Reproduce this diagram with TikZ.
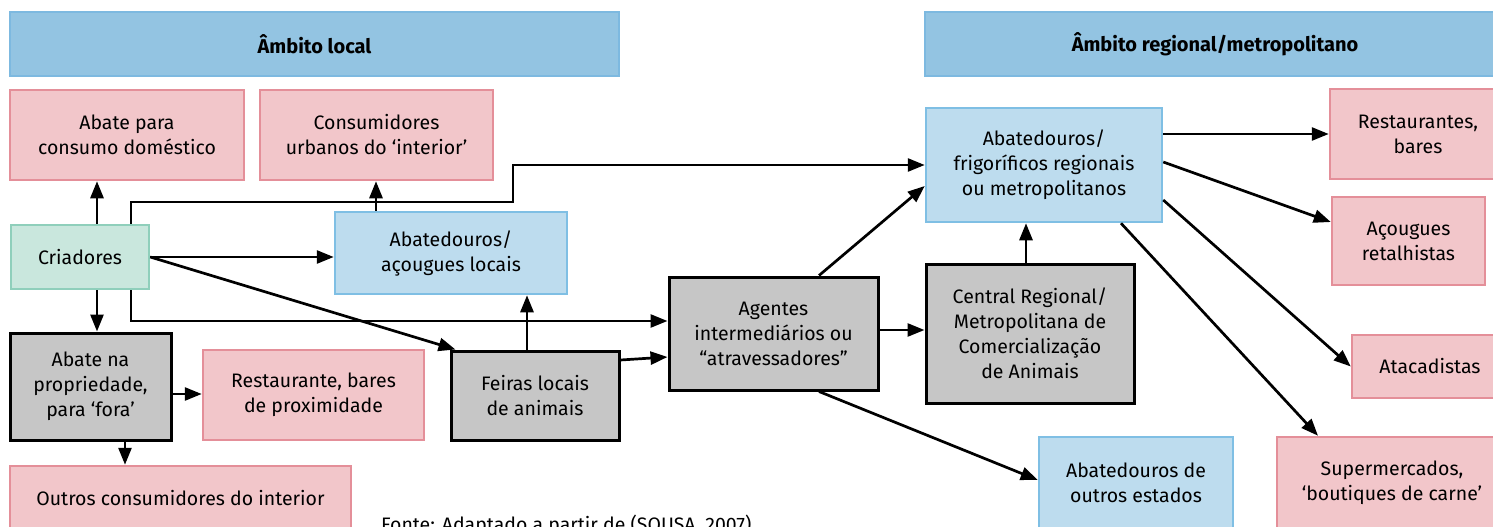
\documentclass[tikz,border=0pt]{standalone}
\usepackage{fontspec}
\setmainfont{Fira Sans}
\usetikzlibrary{arrows.meta}
\definecolor{hdr}{HTML}{93C4E2}
\definecolor{hdrb}{HTML}{7DB9E0}
\definecolor{lb}{HTML}{BDDCEE}
\definecolor{lbb}{HTML}{7FBFE4}
\definecolor{pk}{HTML}{F2C6CA}
\definecolor{pkb}{HTML}{E48F99}
\definecolor{gr}{HTML}{C9E7DD}
\definecolor{grb}{HTML}{8FCFBB}
\definecolor{gy}{HTML}{C6C6C6}
\newcommand\mkbox[7]{\node[#1, minimum width={(#5-#3)*1pt}, minimum height={(#6-#4)*1pt}] (#2) at ({(#3+#5)/2},{(#4+#6)/2}) {#7};}
\begin{document}
\begin{tikzpicture}[x=1pt,y=-1pt,
  box/.style={rectangle, inner sep=0pt, align=center, text=black, font=\fontsize{19.5}{25}\selectfont},
  hdrbox/.style={box, fill=hdr, draw=hdrb, line width=2.5pt, font=\fontsize{20}{24}\selectfont\bfseries},
  bluebox/.style={box, fill=lb, draw=lbb, line width=2.5pt},
  pinkbox/.style={box, fill=pk, draw=pkb, line width=2.5pt},
  greenbox/.style={box, fill=gr, draw=grb, line width=2.5pt},
  graybox/.style={box, fill=gy, draw=black, line width=3pt},
  arr/.style={line width=2.7pt, -{Triangle[length=17pt,width=13pt]}},
  srcnote/.style={font=\fontsize{19.5}{22}\selectfont, inner sep=0pt, anchor=base west}
]
\useasboundingbox (0,0) rectangle (1493,527);
\fill[white] (0,0) rectangle (1493,527);
\clip (0,0) rectangle (1493,527);

\mkbox{hdrbox}{hdrL}{10}{12}{619}{76}{Âmbito local}
\mkbox{hdrbox}{hdrR}{925}{12}{1505}{76}{Âmbito regional/metropolitano}

\mkbox{pinkbox}{abC}{10}{90}{244}{180}{Abate para\\consumo doméstico}
\mkbox{pinkbox}{consU}{260}{90}{493}{180}{Consumidores\\urbanos do ‘interior’}
\mkbox{greenbox}{criad}{11}{225}{149}{289}{Criadores}
\mkbox{bluebox}{abL}{335}{212}{567}{294}{Abatedouros/\\açougues locais}
\mkbox{graybox}{abP}{10}{333}{171}{440}{Abate na\\propriedade,\\para ‘fora’}
\mkbox{pinkbox}{restB}{203}{350}{424}{440}{Restaurante, bares\\de proximidade}
\mkbox{graybox}{feiras}{451}{351}{619}{440}{Feiras locais\\de animais}
\mkbox{pinkbox}{outros}{10}{466}{351}{530}{Outros consumidores do interior}
\mkbox{graybox}{agentes}{669}{277}{878}{390}{Agentes\\intermediários ou\\“atravessadores”}
\mkbox{bluebox}{abF}{926}{108}{1162}{222}{Abatedouros/\\frigoríficos regionais\\ou metropolitanos}
\mkbox{graybox}{central}{926}{264}{1134}{403}{Central Regional/\\Metropolitana de\\Comercialização\\de Animais}
\mkbox{bluebox}{abO}{1039}{437}{1233}{528}{Abatedouros de\\outros estados}
\mkbox{pinkbox}{rest}{1330}{89}{1506}{179}{Restaurantes,\\bares}
\mkbox{pinkbox}{acoug}{1332}{197}{1485}{285}{Açougues\\retalhistas}
\mkbox{pinkbox}{atac}{1352}{335}{1508}{398}{Atacadistas}
\mkbox{pinkbox}{super}{1277}{437}{1507}{528}{Supermercados,\\‘boutiques de carne’}

\node[srcnote] (fonte) at (381,531) {Fonte: Adaptado a partir de (SOUSA, 2007)};

% guide coordinates
\coordinate (x97) at (97,0);
\coordinate (x131) at (131,0);
\coordinate (x125) at (125,0);
\coordinate (x376) at (376,0);
\coordinate (x527) at (527,0);
\coordinate (x819) at (819,0);
\coordinate (x1026) at (1026,0);
\coordinate (x1121) at (1121,0);
\coordinate (x1318) at (1318,0);
\coordinate (y257) at (0,257);
\coordinate (y394) at (0,394);
\coordinate (y360) at (0,360);
\coordinate (y357) at (0,357);
\coordinate (y330) at (0,330);
\coordinate (y186) at (0,186);
\coordinate (y480) at (0,480);
\coordinate (y134) at (0,134);
\coordinate (y162) at (0,162);
\coordinate (y222) at (0,222);
\coordinate (y200) at (0,200);
\coordinate (k1) at (513,202);
\coordinate (k2) at (513,165);
\coordinate (k3) at (131,321);

\draw[arr] (x97 |- criad.north) -- (x97 |- abC.south);
\draw[arr] (x97 |- criad.south) -- (x97 |- abP.north);
\draw[arr] (x131 |- criad.north) |- (k1) -- (k2) -- (abF.west |- k2);
\draw[arr] (x131 |- criad.south) -- (k3) -- (agentes.west |- k3);
\draw[arr] (criad.east |- y257) -- (abL.west |- y257);
\draw[arr] (criad.east |- y257) -- ([xshift=6pt]feiras.north west);
\draw[arr] (x376 |- abL.north) -- (x376 |- consU.south);
\draw[arr] (abP.east |- y394) -- (restB.west |- y394);
\draw[arr] (x125 |- abP.south) -- (x125 |- outros.north);
\draw[arr] (x527 |- feiras.north) -- (x527 |- abL.south);
\draw[arr] (feiras.east |- y360) -- (agentes.west |- y357);
\draw[arr] (agentes.east |- y330) -- (central.west |- y330);
\draw[arr] (x819 |- agentes.north) -- (abF.west |- y186);
\draw[arr] (x819 |- agentes.south) -- (abO.west |- y480);
\draw[arr] (x1026 |- central.north) -- (x1026 |- abF.south);
\draw[arr] (abF.east |- y134) -- (rest.west |- y134);
\draw[arr] (abF.east |- y162) -- (acoug.west |- y222);
\draw[arr] (abF.east |- y200) -- (atac.west);
\draw[arr] (x1121 |- abF.south) -- (x1318 |- super.north);
\end{tikzpicture}
\end{document}
